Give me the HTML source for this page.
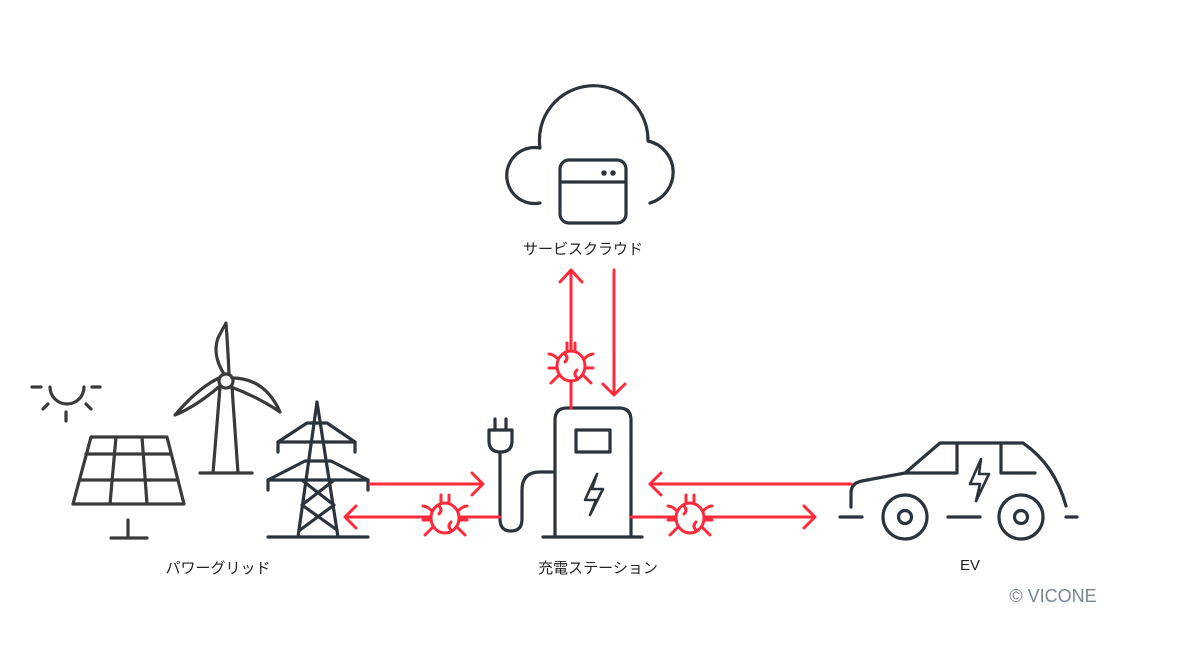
<!DOCTYPE html>
<html><head><meta charset="utf-8"><style>
html,body{margin:0;padding:0;background:#fff;}
body{width:1185px;height:646px;position:relative;overflow:hidden;font-family:"Liberation Sans","Noto Sans CJK JP",sans-serif;}
.l{position:absolute;font-size:15px;color:#222;transform:translateX(-50%);white-space:nowrap;}
</style></head><body>
<svg width="1185" height="646" style="position:absolute;left:0;top:0" fill="none" stroke-linecap="round" stroke-linejoin="round">
<defs>
<g id="bug" stroke="#ff2a3a" stroke-width="3">
<ellipse cx="0" cy="0" rx="14" ry="15"/>
<path d="M-4,-15 V-23 M4,-15 V-23"/>
<path d="M-13,-7 Q-18,-12 -22,-12 M13,-7 Q18,-12 22,-12 M-14,2 H-22 M14,2 H22 M-12,9 Q-17,14 -20,17 M12,9 Q17,14 20,17"/>
<path d="M-6,-12 Q-2,-8 -6,-4 M6,4 Q2,8 6,12"/>
</g>
</defs>
<g stroke="#2b333d" stroke-width="3.2">
<!-- cloud -->
<path d="M540,203 A28,28 0 1 1 540,148 A54.3,54.3 0 1 1 648,141 A32,32 0 0 1 650,203"/>
<rect x="560" y="160" width="66" height="63" rx="9"/>
<path d="M560,182 H626"/>
<circle cx="604" cy="173" r="1.2" fill="#2b333d"/><circle cx="613" cy="173" r="1.2" fill="#2b333d"/>
<!-- station -->
<path d="M555,537 V420 Q555,408 567,408 H619 Q631,408 631,420 V537"/>
<path d="M543,537 H642"/>
<rect x="576" y="430" width="34" height="22"/>
<path d="M597,474 L585,500 H596 L590,515 L603,489 H592 Z" stroke-width="2.6"/>
<!-- plug -->
<path d="M495,419 V430 M506,419 V430"/>
<path d="M489,430 H512 V441 Q512,452 500.5,452 Q489,452 489,441 Z"/>
<path d="M500,452 V519 Q500,531 511,531 Q522,531 522,519 V490 Q522,472 540,472 H555"/>
<!-- car -->
<path d="M851,507 V493 Q851,483 862,481 L905,473 L940,443 H1023 Q1055,465 1066,506"/>
<path d="M957,443 V473 H905 M1001,443 V473 H1035"/>
<path d="M981,459 L970,484 H980 L976,501 L989,474 H979 Z" stroke-width="2.6"/>
<circle cx="905" cy="517" r="22"/><circle cx="905" cy="517" r="6.5"/>
<circle cx="1021" cy="517" r="22"/><circle cx="1021" cy="517" r="6.5"/>
<path d="M840,517 H862 M948,517 H980 M1066,517 H1077"/>
<!-- tower -->
<path d="M268,537 H368 M298,537 L317,402 L338,537"/>
<path d="M278,452 V442 H355 V452 M268,490 V480 H368 V490"/>
<path d="M278,442 L307,423 H327 L355,442 M268,480 L305,461 H331 L368,480"/>
<path d="M303,481 L334,505 L300,530 M333,481 L302,505 L337,530" />
</g>
<g stroke="#3a3a3a" stroke-width="3.2">
<!-- sun -->
<path d="M50,387 A17,17 0 0 0 84,387"/>
<path d="M32,387 H41 M92,387 H100 M43,409 L48,404 M86,404 L91,409 M66,412 V421"/>
<!-- solar -->
<path d="M91,437 H167 L184,504 H73 Z M86,454 H171 M80,480 H177 M116,437 L110,504 M142,437 L147,504"/>
<path d="M128,520 V538 M111,538 H147"/>
<!-- turbine -->
<circle cx="226" cy="381" r="7"/>
<path d="M220,387 L213,473 M232,387 L238,473 M200,473 H252"/>
<path d="M224,374 Q212,355 218,338 Q222,330 226,323 Q228,350 229,374"/>
<path d="M220,386 Q195,407 175,415 Q198,388 219,378"/>
<path d="M232,378 Q265,378 280,412 Q258,397 231,387"/>
</g>
<g stroke="#ff2a3a" stroke-width="3">
<path d="M571,408 V270 M560,282 L571,270 L582,282"/>
<path d="M614,270 V395 M603,384 L614,395 L625,384"/>
<path d="M370,484 H483 M472,473 L483,484 L472,495"/>
<path d="M345,517 H500 M356,506 L345,517 L356,528"/>
<path d="M650,484 H851 M661,473 L650,484 L661,495"/>
<path d="M631,517 H815 M804,506 L815,517 L804,528"/>
</g>
<g fill="#fff"><use href="#bug" x="571" y="366"/><use href="#bug" x="445" y="518"/><use href="#bug" x="690" y="518"/></g>
</svg>
<div class="l" style="left:583px;top:238px">サービスクラウド</div>
<div class="l" style="left:218px;top:557px">パワーグリッド</div>
<div class="l" style="left:598px;top:557px">充電ステーション</div>
<div class="l" style="left:970px;top:557px">EV</div>
<div class="l" style="left:1053px;top:586px;font-size:18px;color:#7a8494">© VICONE</div>
</body></html>
